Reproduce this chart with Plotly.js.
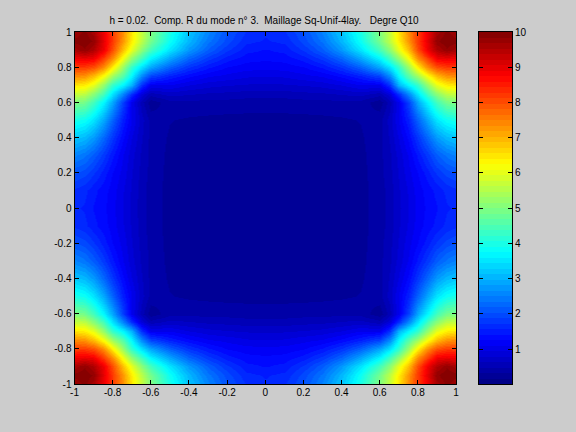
<!DOCTYPE html>
<html><head><meta charset="utf-8">
<script src="https://cdn.plot.ly/plotly-3.0.1.min.js"></script>
<style>html,body{margin:0;padding:0;background:#ccc}</style></head>
<body><div id="c" style="width:576px;height:432px"></div>
<script>
const titleText = "h = 0.02.  Comp. R du mode n° 3.  Maillage Sq-Unif-4lay.   Degre Q10";
const coords = [0,.1,.2,.3,.4,.5,.6,.65,.7,.75,.8,.85,.9,.95,1];
const quadrant = [
[.2,.2,.2,.22,.24,.27,.4,.55,.75,.95,1.15,1.3,1.4,1.55,1.6],
[.2,.2,.2,.22,.24,.27,.4,.55,.77,.97,1.18,1.33,1.47,1.62,1.7],
[.2,.2,.22,.22,.24,.27,.42,.58,.8,1.05,1.25,1.5,1.75,1.95,2.05],
[.22,.22,.22,.24,.25,.28,.43,.6,.85,1.12,1.45,1.8,2.15,2.4,2.55],
[.24,.24,.24,.25,.26,.3,.43,.65,.95,1.3,1.75,2.25,2.75,3.05,3.2],
[.27,.27,.27,.28,.3,.33,.42,.7,1.1,1.55,2.2,2.9,3.5,3.85,4.0],
[.4,.4,.42,.43,.43,.42,.22,.55,1.1,1.9,2.9,3.7,4.4,4.9,5.0],
[.55,.55,.58,.6,.65,.7,.55,.9,1.7,2.6,3.5,4.4,5.1,5.6,5.7],
[.75,.77,.8,.85,.95,1.1,1.1,1.7,3.0,3.7,4.25,5.2,6.0,6.4,6.5],
[.95,.97,1.05,1.12,1.3,1.55,1.9,2.6,3.7,4.6,5.3,6.2,6.9,7.3,7.4],
[1.15,1.18,1.25,1.45,1.75,2.2,2.9,3.5,4.25,5.3,6.4,7.4,8,8.2,8.2],
[1.3,1.33,1.5,1.8,2.25,2.9,3.7,4.4,5.2,6.2,7.4,8.2,8.9,9.0,8.9],
[1.4,1.47,1.75,2.15,2.75,3.5,4.4,5.1,6.0,6.9,8,8.9,9.5,9.8,9.6],
[1.55,1.62,1.95,2.4,3.05,3.85,4.9,5.6,6.4,7.3,8.2,9.0,9.8,10,9.9],
[1.6,1.7,2.05,2.55,3.2,4.0,5.0,5.7,6.5,7.4,8.2,8.9,9.6,9.9,9.7]
];
const zMin = 0.01, zMax = 10, nColors = 64;
const mainTicks = [-1,-.8,-.6,-.4,-.2,0,.2,.4,.6,.8,1];
const mainTickLabels = ["-1","-0.8","-0.6","-0.4","-0.2","0","0.2","0.4","0.6","0.8","1"];
const barTicks = [1,2,3,4,5,6,7,8,9,10];

// the figure is symmetric in both directions: mirror the read quadrant
const axis = coords.slice(1).reverse().map(v=>-v).concat(coords);
const mirrorRow = r => r.slice(1).reverse().concat(r);
const zFull = quadrant.slice(1).reverse().concat(quadrant).map(mirrorRow);

function jet(t){
  const ch = d => Math.round(255*Math.max(0,Math.min(1,1.5-Math.abs(4*t-d))));
  return `rgb(${ch(3)},${ch(2)},${ch(1)})`;
}
const scale = [];
for(let i=0;i<nColors;i++){
  const c = jet((i+.5)/nColors);
  scale.push([i/nColors,c],[(i+1)/nColors,c]);
}
const levels = [];
for(let i=0;i<nColors;i++) levels.push([zMin+(i+.5)*(zMax-zMin)/nColors]);
const levelY = levels.map(r=>r[0]);

const font = {family:'"Liberation Sans", Arial, sans-serif',size:10,color:'#000'};
const axBase = {showgrid:false,zeroline:false,ticks:'inside',ticklen:4,tickwidth:1,tickcolor:'#000',
  linecolor:'#000',linewidth:1,showline:true,mirror:'allticks',tickfont:font};

Plotly.newPlot('c',[
 {type:'heatmap',x:axis,y:axis,z:zFull,zmin:zMin,zmax:zMax,zsmooth:'best',colorscale:scale,showscale:false,xaxis:'x',yaxis:'y'},
 {type:'heatmap',x:[0,1],y:levelY,z:levels.map(r=>[r[0],r[0]]),zmin:zMin,zmax:zMax,colorscale:scale,showscale:false,xaxis:'x2',yaxis:'y2',hoverinfo:'y'}
],{
 width:576,height:432,paper_bgcolor:'#cccccc',plot_bgcolor:'#cccccc',font:font,
 margin:{l:0,r:0,t:0,b:0},showlegend:false,
 title:{text:titleText.replace(/ {2}/g,'&nbsp;&nbsp;').replace(/&nbsp; /g,'&nbsp;&nbsp;'),font:{...font,size:10},x:264/576,xanchor:'center',y:1-20/432,yanchor:'middle'},
 xaxis:{...axBase,domain:[74.5/576,456/576],range:[-1,1],tickvals:mainTicks,ticktext:mainTickLabels,anchor:'y',ticklabelstandoff:-1},
 yaxis:{...axBase,domain:[1-384/432,1-32/432],range:[-1,1],tickvals:mainTicks,ticktext:mainTickLabels,anchor:'x'},
 xaxis2:{...axBase,domain:[478.5/576,512/576],range:[0,1],ticks:'',showticklabels:false,anchor:'y2'},
 yaxis2:{...axBase,domain:[1-384/432,1-32/432],range:[zMin,zMax],side:'right',tickvals:barTicks,anchor:'x2'}
},{displayModeBar:false,staticPlot:true});
</script></body></html>
